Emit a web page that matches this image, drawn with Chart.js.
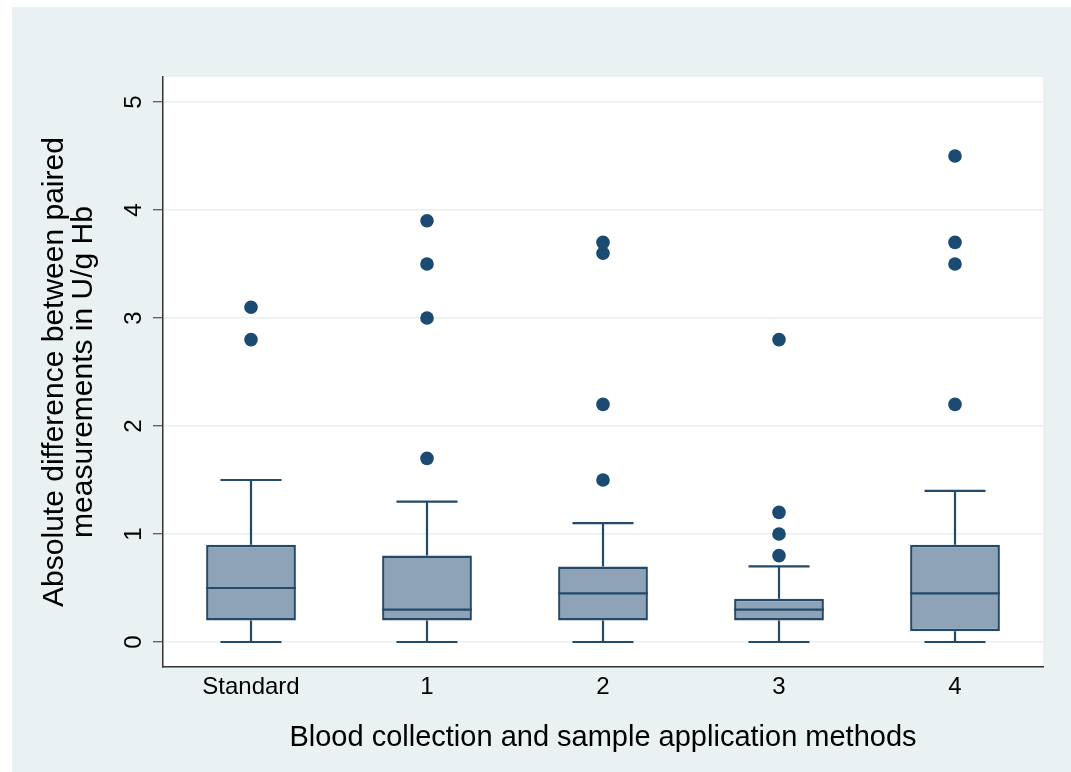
<!DOCTYPE html>
<html>
<head>
<meta charset="utf-8">
<script src="https://cdn.jsdelivr.net/npm/chart.js@4/dist/chart.umd.min.js"></script>
<style>
  html, body { margin: 0; padding: 0; background: #fff; }
  #wrap { width: 1071px; height: 772px; }
</style>
</head>
<body>
<div id="wrap"><canvas id="chart" width="1071" height="772"></canvas></div>
<script>
// box plot data
const methods = ['Standard', '1', '2', '3', '4'];
const whiskerLow = [0, 0, 0, 0, 0];
const q1 = [0.2, 0.2, 0.2, 0.2, 0.1];
const median = [0.5, 0.3, 0.45, 0.3, 0.45];
const q3 = [0.9, 0.8, 0.7, 0.4, 0.9];
const whiskerHigh = [1.5, 1.3, 1.1, 0.7, 1.4];
const outliers = [
    [2.8, 3.1],
    [1.7, 3.0, 3.5, 3.9],
    [1.5, 2.2, 3.6, 3.7],
    [0.8, 1.0, 1.2, 2.8],
    [2.2, 3.5, 3.7, 4.5],
];
const yTicks = [0, 1, 2, 3, 4, 5];

const boxFill = '#8ea3b8';
const boxLine = '#244a6b';
const dotColor = '#1b4a73';
const outerBg = '#e9f1f3';
const gridColor = '#e8eff2';
const axisColor = '#333333';
const fontFamily = "'Liberation Sans', Arial, sans-serif";

Chart.defaults.font.family = fontFamily;
Chart.defaults.color = '#000';

const outlierPoints = [];
outliers.forEach((vals, i) => {
    vals.forEach(v => outlierPoints.push({ x: methods[i], y: v }));
});

// background: white frame, grey outer region, white plot area
const backgroundPlugin = {
    id: 'bg',
    beforeDraw(chart) {
        const { ctx, chartArea: a } = chart;
        ctx.save();
        ctx.fillStyle = '#fff';
        ctx.fillRect(0, 0, chart.width, chart.height);
        ctx.fillStyle = outerBg;
        ctx.fillRect(12, 7, chart.width - 12, chart.height - 7);
        ctx.fillStyle = '#fff';
        ctx.fillRect(a.left, a.top, a.right - a.left, a.bottom - a.top);
        ctx.restore();
    },
};

// whiskers, caps and median lines
const whiskerPlugin = {
    id: 'whiskers',
    afterDatasetsDraw(chart) {
        const { ctx, scales: { y } } = chart;
        const bars = chart.getDatasetMeta(0).data;
        ctx.save();
        ctx.strokeStyle = boxLine;
        ctx.lineWidth = 2.2;
        bars.forEach((bar, i) => {
            const x = bar.x;
            const half = bar.width / 2;
            const cap = bar.width * 0.34;
            const yLo = y.getPixelForValue(whiskerLow[i]);
            const yQ1 = y.getPixelForValue(q1[i]);
            const yMed = y.getPixelForValue(median[i]);
            const yQ3 = y.getPixelForValue(q3[i]);
            const yHi = y.getPixelForValue(whiskerHigh[i]);
            ctx.beginPath();
            ctx.moveTo(x, yQ3); ctx.lineTo(x, yHi);
            ctx.moveTo(x - cap, yHi); ctx.lineTo(x + cap, yHi);
            ctx.moveTo(x, yQ1); ctx.lineTo(x, yLo);
            ctx.moveTo(x - cap, yLo); ctx.lineTo(x + cap, yLo);
            ctx.moveTo(x - half, yMed); ctx.lineTo(x + half, yMed);
            ctx.stroke();
        });
        ctx.restore();
    },
};

// y tick labels, rotated like the original
const yLabelPlugin = {
    id: 'yLabels',
    afterDraw(chart) {
        const { ctx, scales: { y } } = chart;
        ctx.save();
        ctx.fillStyle = '#000';
        ctx.font = '24px ' + fontFamily;
        ctx.textAlign = 'center';
        ctx.textBaseline = 'alphabetic';
        y.ticks.forEach(t => {
            ctx.save();
            ctx.translate(141, y.getPixelForValue(t.value));
            ctx.rotate(-Math.PI / 2);
            ctx.fillText(String(t.value), 0, 0);
            ctx.restore();
        });
        ctx.restore();
    },
};

new Chart(document.getElementById('chart'), {
    type: 'bar',
    data: {
        labels: methods,
        datasets: [
            {
                data: methods.map((_, i) => [q1[i], q3[i]]),
                backgroundColor: boxFill,
                borderColor: boxLine,
                borderWidth: 2.5,
                borderSkipped: false,
                categoryPercentage: 1,
                barPercentage: 0.51,
            },
            {
                type: 'scatter',
                data: outlierPoints,
                backgroundColor: dotColor,
                borderColor: dotColor,
                pointRadius: 6.8,
                borderWidth: 0,
            },
        ],
    },
    options: {
        responsive: false,
        animation: false,
        layout: { padding: { left: 0, top: 77, right: 28, bottom: 0 } },
        plugins: {
            legend: { display: false },
            tooltip: { enabled: false },
        },
        scales: {
            x: {
                type: 'category',
                offset: true,
                grid: { display: false, drawTicks: false },
                border: { display: true, color: axisColor, width: 1.5 },
                ticks: { font: { size: 24 }, color: '#000', padding: 6, autoSkip: false, maxRotation: 0 },
                title: {
                    display: true,
                    text: 'Blood collection and sample application methods',
                    font: { size: 29, lineHeight: 1.2 },
                    color: '#000',
                    padding: { top: 0, bottom: 17 },
                },
                afterFit: s => { s.height = 105; },
            },
            y: {
                min: -0.2315,
                max: 5.2315,
                afterBuildTicks: s => { s.ticks = yTicks.map(v => ({ value: v })); },
                grid: { color: gridColor, lineWidth: 1.5, tickColor: axisColor, tickLength: 10, tickWidth: 1 },
                border: { display: true, color: axisColor, width: 1.5 },
                ticks: { display: false },
                title: {
                    display: true,
                    text: ['Absolute difference between paired', 'measurements in U/g Hb'],
                    font: { size: 30, lineHeight: 0.97 },
                    color: '#000',
                    padding: { top: 40, bottom: 0 },
                },
                afterFit: s => { s.width = 163; },
            },
        },
    },
    plugins: [backgroundPlugin, whiskerPlugin, yLabelPlugin],
});
</script>
</body>
</html>
